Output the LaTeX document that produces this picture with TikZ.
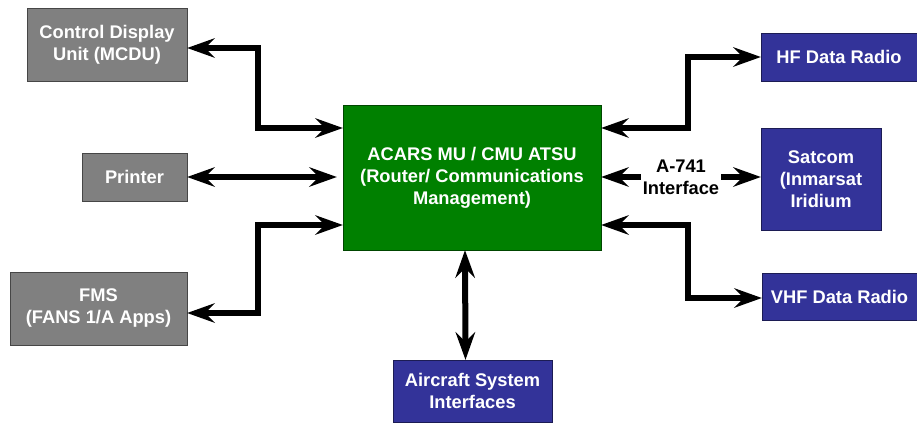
\documentclass[tikz,border=0pt]{standalone}
\usepackage{fontspec}
\setmainfont{Liberation Sans}
\usetikzlibrary{arrows.meta}
\definecolor{unitgray}{HTML}{808080}
\definecolor{mugreen}{HTML}{008000}
\definecolor{radioblue}{HTML}{333399}
\begin{document}
\begin{tikzpicture}[x=1pt, y=-1pt,
	box/.style={draw=#1!55!black, fill=#1, text=white, align=center, inner sep=0pt, font=\bfseries\fontsize{18.3}{22}\selectfont},
	link/.style={line width=6pt, {Stealth[length=28pt,width=20pt,inset=10pt,line width=0pt]}-{Stealth[length=28pt,width=20pt,inset=10pt,line width=0pt]}}]
		\useasboundingbox (0,0) rectangle (917,423);
		
		% left side units
		\node[box=unitgray, minimum width=160pt, minimum height=73pt] (mcdu) at (107,44.5) {Control Display\\Unit (MCDU)};
		\node[box=unitgray, minimum width=105pt, minimum height=48pt] (printer) at (134.5,177) {Printer};
		\node[box=unitgray, minimum width=177pt, minimum height=73pt] (fms) at (98.5,308.5) {FMS\\(FANS 1/A Apps)};
		
		% management unit
		\node[box=mugreen, minimum width=258pt, minimum height=145pt] (acars) at (472,177.5) {ACARS MU / CMU ATSU\\(Router/ Communications\\Management)};
		
		% radios and aircraft side
		\node[box=radioblue, minimum width=156pt, minimum height=48pt] (hf) at (839,57) {HF Data Radio};
		\node[box=radioblue, minimum width=120pt, minimum height=102pt] (satcom) at (821,179) {Satcom\\(Inmarsat\\Iridium};
		\node[box=radioblue, minimum width=155pt, minimum height=47pt] (vhf) at (839.5,297) {VHF Data Radio};
		\node[box=radioblue, minimum width=159pt, minimum height=62pt] (acsys) at (472.5,391) {Aircraft System\\Interfaces};
		
		\draw[link] (mcdu.east |- 0,48) -| (258,128) -- (acars.west |- 0,128);
		\draw[link, shorten >=6pt] (printer.east) -- (acars.west |- printer.east);
		\draw[link] (fms.east |- 0,313) -| (258,225) -- (acars.west |- 0,225);
		
		\draw[link] (acars.east |- 0,128) -| (688,57) -- (hf.west);
		\draw[link] (acars.east |- 0,177) -- node[fill=white, inner sep=1.5pt, align=center, font=\bfseries\fontsize{18.3}{22}\selectfont] (a741) {A-741\\Interface} (satcom.west |- 0,177);
		\draw[link] (acars.east |- 0,225) -| (688,298) -- (vhf.west |- 0,298);
		
		\draw[link] ([xshift=-7pt]acars.south) -- ([xshift=-7pt]acsys.north);
\end{tikzpicture}
\end{document}
